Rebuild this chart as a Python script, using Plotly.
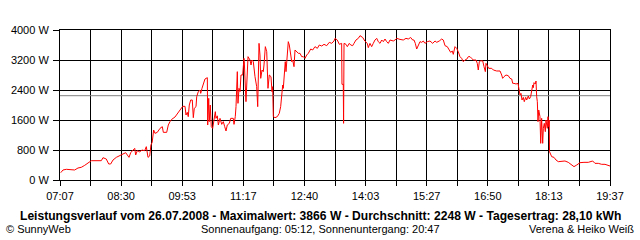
import plotly.graph_objects as go

# time in minutes since midnight, power in W
time_min = [
    428.0, 431.1, 435.6, 442.4, 447.0, 451.5, 456.0, 460.7, 466.1, 469.7, 483.3, 485.6, 490.1, 493.4, 496.1,
    499.3, 503.8, 508.4, 512.9, 516.6, 521.1, 523.4, 526.5, 528.9, 530.2, 532.4, 535.7, 538.8, 542.5, 544.7,
    547.0, 549.3, 551.0, 552.7, 554.7,
    556.5, 559.7, 563.4, 566.5, 567.9, 572.5, 574.7, 577.0, 579.3, 583.8, 588.3, 591.6, 594.3, 597.5, 598.8,
    600.6, 601.9, 603.3, 605.2, 607.4, 608.8, 610.1, 612.5, 613.4, 615.6, 617.9, 618.9, 620.6, 622.4, 624.7,
    627.9, 628.4, 629.8, 630.6, 631.9, 633.3, 635.2, 637.0, 638.8, 639.7, 641.5, 642.9, 645.2, 647.5, 649.7,
    651.6, 653.4, 655.1, 657.9, 659.8, 663.3, 664.3, 666.0, 667.0, 668.8, 669.7, 671.1, 672.5, 673.8, 676.1,
    677.9, 678.3, 680.6, 682.0, 683.4, 686.1, 687.5, 688.8, 690.6, 692.9, 695.2, 696.6, 698.4, 699.7, 700.7,
    702.5, 704.2, 705.2, 707.0, 708.9, 710.6, 712.4, 714.7, 716.1, 717.0, 717.9, 720.2, 723.3, 726.0, 727.9,
    729.3, 730.7, 731.5, 732.9, 734.2, 735.2, 737.0, 738.3, 739.7, 741.6, 743.0, 744.3, 746.1, 747.5, 749.8,
    752.0, 754.3, 756.6, 758.8, 761.1, 763.4, 765.6, 768.9, 771.6, 774.7, 777.9, 780.6, 783.9, 787.0, 790.7,
    794.2, 797.5, 800.6, 802.0, 805.1, 807.9, 811.1, 811.5, 813.3, 813.7, 814.3, 817.0, 818.8, 821.5, 823.4,
    826.1, 827.9, 830.6, 833.8, 836.1, 839.8, 842.9, 846.0, 847.4, 849.7, 852.0, 854.2, 856.5, 858.9, 861.0,
    863.4, 865.7, 867.9, 870.2, 872.5, 874.7, 877.0, 881.5, 883.8, 886.1, 890.6, 895.1, 898.8, 901.9, 905.2,
    907.9, 909.7, 911.5, 913.4, 915.6, 917.9, 920.2, 922.4, 924.7, 927.9, 931.5, 935.2, 938.4, 940.7, 944.2,
    947.5, 949.7, 952.0, 955.1, 957.9, 959.7, 961.9, 963.3, 965.6, 967.9, 970.1, 972.4, 974.7, 976.9, 979.3,
    981.6, 983.8, 986.1, 988.4, 990.6, 994.3, 996.0, 997.4, 998.8, 1000.7, 1003.4, 1005.2, 1007.0, 1007.9, 1009.7,
    1011.6, 1015.7, 1017.9, 1022.5, 1027.0, 1029.3, 1030.6, 1032.5, 1035.2, 1038.3, 1040.6, 1043.0, 1044.3, 1046.1, 1048.8,
    1051.5, 1052.5, 1054.3, 1055.6, 1057.0, 1058.8, 1060.1, 1062.0, 1063.4, 1065.6, 1067.0, 1068.8, 1070.2, 1071.6, 1072.4,
    1073.4, 1075.1, 1076.1, 1077.0, 1077.9, 1078.8, 1079.8, 1081.5, 1082.5, 1083.8, 1085.2, 1086.1, 1087.4, 1088.8, 1089.7,
    1091.5, 1092.5, 1093.4, 1094.2, 1094.5, 1095.2, 1097.5, 1100.6, 1103.4, 1106.5, 1111.1, 1115.6, 1120.1, 1124.8, 1127.9,
    1131.6, 1136.1, 1141.5, 1147.4, 1153.4, 1156.5, 1161.0, 1165.7, 1170.2, 1174.7, 1177.0,
]
power_w = [
    195, 267, 285, 285, 267, 320, 338, 391, 480, 515, 515, 595, 560, 427, 427,
    533, 604, 640, 693, 728, 604, 728, 782, 844, 667, 782, 750, 800, 782, 889,
    604, 640, 933, 1004, 1333,
    1244, 1271, 1378, 1422, 1271, 1271, 1467, 1556, 1618, 1680, 1804, 1911, 1964, 1964, 1733,
    1804, 1689, 2000, 2133, 2133, 1662, 1911, 1956, 2222, 2356, 2400, 2311, 2444, 2533, 2693,
    2729, 1467, 2178, 1556, 2000, 1422, 1378, 1556, 1822, 1644, 1711, 1467, 1644, 1484, 1556,
    1422, 1307, 1467, 1511, 1644, 1644, 1484, 1689, 1956, 2889, 2044, 2444, 2356, 2800, 2800,
    3244, 3156, 2089, 2711, 3289, 3200, 3067, 3200, 3156, 2756, 2489, 1956, 3644, 3333, 2711,
    2933, 2889, 3067, 3556, 3422, 2444, 2800, 2756, 2356, 2489, 1689, 1662, 1689, 1778, 1956,
    2356, 2533, 2444, 2978, 3156, 2889, 3556, 3689, 3600, 3244, 3156, 3200, 3022, 3467, 3422,
    3378, 3378, 3289, 3289, 3244, 3333, 3378, 3493, 3467, 3556, 3511, 3600, 3573, 3618, 3582,
    3671, 3644, 3707, 3778, 3733, 3618, 3644, 2551, 2551, 1511, 3644, 3618, 3556, 3644, 3600,
    3582, 3644, 3733, 3778, 3849, 3800, 3700, 3644, 3530, 3644, 3556, 3644, 3733, 3778, 3689,
    3644, 3733, 3689, 3760, 3689, 3644, 3733, 3707, 3733, 3778, 3750, 3733, 3778, 3760, 3800,
    3733, 3733, 3644, 3493, 3582, 3689, 3671, 3707, 3644, 3689, 3707, 3644, 3707, 3671, 3707,
    3760, 3733, 3582, 3556, 3467, 3404, 3440, 3351, 3556, 3511, 3422, 3289, 3244, 3156, 3200,
    3222, 3289, 3289, 3244, 3200, 3200, 3111, 2933, 3156, 3178, 3178, 3022, 2889, 3111, 3022,
    2978, 2978, 2933, 2907, 2907, 2800, 2711, 2756, 2800, 2782, 2711, 2693, 2578, 2578, 2560,
    2578, 2444, 2267, 2311, 2133, 2204, 2089, 2204, 2133, 2240, 2160, 2222, 2382, 2533, 2462,
    2596, 2560, 2640, 2222, 2089, 1556, 1867, 1689, 978, 1644, 978, 1378, 1511, 1289, 1600,
    1378, 1689, 1422, 1600, 756, 711, 622, 604, 533, 489, 507, 507, 471, 400, 356,
    400, 462, 471, 471, 507, 444, 444, 418, 418, 391, 373,
]

average_w = 2248
x_start, x_end = 427, 1177          # 07:07 .. 19:37
y_ticks = [0, 800, 1600, 2400, 3200, 4000]
y_ticklabels = ["0 W", "800 W", "1600 W", "2400 W", "3200 W", "4000 W"]
x_ticklabels = ["07:07", "08:30", "09:53", "11:17", "12:40", "14:03", "15:27", "16:50", "18:13", "19:37"]

title_text = "Leistungsverlauf vom 26.07.2008 - Maximalwert: 3866 W - Durchschnitt: 2248 W - Tagesertrag: 28,10 kWh"
left_text = "© SunnyWeb"
mid_text = "Sonnenaufgang: 05:12, Sonnenuntergang: 20:47"
right_text = "Verena & Heiko Weiß"

n_grid = 18
step = (x_end - x_start) / n_grid
x_tickvals = [x_start + i * step for i in range(n_grid + 1)]
x_ticktext = [x_ticklabels[i // 2] if i % 2 == 0 else "" for i in range(n_grid + 1)]

FONT = "Liberation Sans, Arial, sans-serif"

fig = go.Figure()
fig.add_trace(go.Scatter(x=[x_start, x_end], y=[average_w, average_w], mode="lines",
                         line=dict(color="#808080", width=1), hoverinfo="skip"))
fig.add_trace(go.Scatter(x=time_min, y=power_w, mode="lines",
                         line=dict(color="#ff0000", width=1)))

W, H = 640, 240
L, R, T, B = 60, 30, 30, 60
pw, ph = W - L - R, H - T - B

def px(xp):
    return (xp - L) / pw

def py(yp):
    return (H - B - yp) / ph

fig.update_layout(
    width=W, height=H, margin=dict(l=L, r=R, t=T, b=B),
    paper_bgcolor="white", plot_bgcolor="white", showlegend=False,
    font=dict(family=FONT, size=11, color="black"),
    xaxis=dict(range=[x_start, x_end], tickvals=x_tickvals, ticktext=x_ticktext,
               showgrid=True, gridcolor="black", gridwidth=1, zeroline=False,
               showline=True, linecolor="black", linewidth=1, mirror=True,
               ticks="outside", ticklen=5, tickcolor="black", tickwidth=1,
               ticklabelstandoff=1,
               tickfont=dict(family=FONT, size=11, color="black")),
    yaxis=dict(range=[0, 4000], tickvals=y_ticks, ticktext=y_ticklabels,
               showgrid=True, gridcolor="black", gridwidth=1, zeroline=False,
               showline=True, linecolor="black", linewidth=1, mirror=True,
               ticks="outside", ticklen=6, tickcolor="black", tickwidth=1,
               ticklabelstandoff=2,
               tickfont=dict(family=FONT, size=11, color="black")),
    annotations=[
        dict(text="<b>" + title_text + "</b>", x=px(320), y=py(216), xref="paper", yref="paper",
             xanchor="center", yanchor="middle", showarrow=False,
             font=dict(family=FONT, size=12.1, color="black")),
        dict(text=left_text, x=px(4), y=py(229), xref="paper", yref="paper",
             xanchor="left", yanchor="middle", showarrow=False,
             font=dict(family=FONT, size=11, color="black")),
        dict(text=mid_text, x=px(320), y=py(229), xref="paper", yref="paper",
             xanchor="center", yanchor="middle", showarrow=False,
             font=dict(family=FONT, size=11, color="black")),
        dict(text=right_text, x=px(636), y=py(229), xref="paper", yref="paper",
             xanchor="right", yanchor="middle", showarrow=False,
             font=dict(family=FONT, size=11, color="black")),
    ],
)

fig.write_html("out.html", config={"displayModeBar": False})
